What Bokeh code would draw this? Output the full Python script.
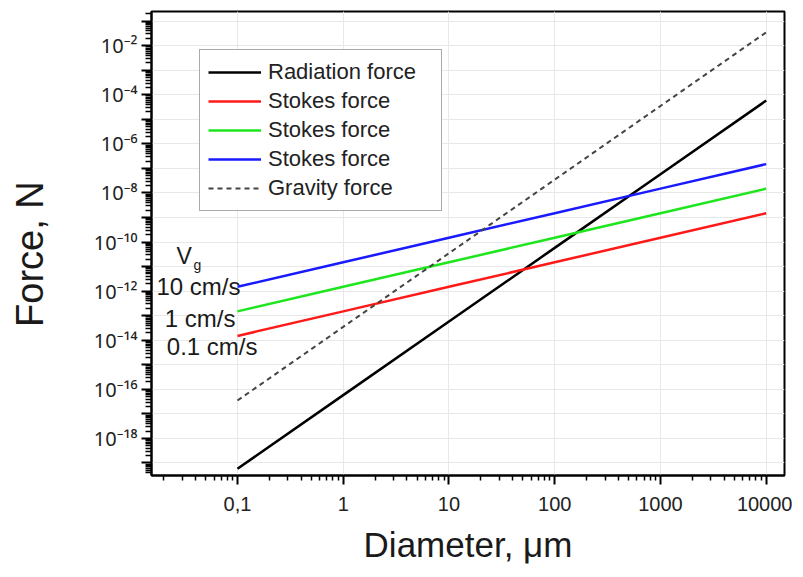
from bokeh.plotting import figure
from bokeh.models import Range1d, FixedTicker, Legend, LegendItem
from bokeh.core.properties import value
from bokeh.embed import file_html
from bokeh.resources import INLINE

# ---- data ----
diameter_um = [0.1, 1, 10, 100, 1000, 10000]
radiation_force = [5.8e-20, 5.8e-17, 5.8e-14, 5.8e-11, 5.8e-8, 5.8e-5]
stokes_01_cms = [1.5e-14, 1.5e-13, 1.5e-12, 1.5e-11, 1.5e-10, 1.5e-9]
stokes_1_cms = [1.5e-13, 1.5e-12, 1.5e-11, 1.5e-10, 1.5e-9, 1.5e-8]
stokes_10_cms = [1.5e-12, 1.5e-11, 1.5e-10, 1.5e-9, 1.5e-8, 1.5e-7]
gravity_force = [3.5e-17, 3.5e-14, 3.5e-11, 3.5e-8, 3.5e-5, 3.5e-2]

legend_labels = ["Radiation force", "Stokes force", "Stokes force", "Stokes force", "Gravity force"]
velocity_labels = ["10 cm/s", "1 cm/s", "0.1 cm/s"]

x_tick_values = [0.1, 1, 10, 100, 1000, 10000]
x_tick_labels = ["0,1", "1", "10", "100", "1000", "10000"]
x_decades = list(range(-2, 5))
y_decades = list(range(-19, 0))
y_labeled = list(range(-18, 0, 2))

X_MIN, X_MAX = 10 ** -1.813, 10 ** 4.173
Y_MIN, Y_MAX = 10 ** -19.51, 10 ** -0.607

FONT = "Liberation Sans"
SUP = str.maketrans("-0123456789", "⁻⁰¹²³⁴⁵⁶⁷⁸⁹")
NBSP = "\u00a0"

p = figure(width=792, height=566, x_axis_type="log", y_axis_type="log",
           x_range=Range1d(X_MIN, X_MAX), y_range=Range1d(Y_MIN, Y_MAX),
           output_backend="svg", toolbar_location=None,
           min_border_left=151, min_border_right=8, min_border_top=11, min_border_bottom=87)
p.background_fill_color = "white"
p.border_fill_color = "white"
p.outline_line_color = "black"
p.outline_line_width = 2

# ---- tickers ----
x_major = [10.0 ** e for e in x_decades]
x_minor = [k * 10.0 ** e for e in range(-2, 5) for k in range(2, 10)]
y_major = [10.0 ** e for e in y_decades]
y_minor = [k * 10.0 ** e for e in range(-20, 0) for k in range(2, 10)]

xt = FixedTicker(ticks=x_major, minor_ticks=x_minor)
yt = FixedTicker(ticks=y_major, minor_ticks=y_minor)
p.xaxis.ticker = xt
p.yaxis.ticker = yt
p.xgrid.ticker = xt
p.ygrid.ticker = yt

xover = {10.0 ** e: "" for e in x_decades}
for v, lab in zip(x_tick_values, x_tick_labels):
    xover[float(v)] = lab
p.xaxis.major_label_overrides = xover

yover = {}
for e in y_decades:
    yover[10.0 ** e] = ("10" + str(e).translate(SUP)) if e in y_labeled else ""
p.yaxis.major_label_overrides = yover

for ax in (p.xaxis, p.yaxis):
    ax.axis_line_width = 2
    ax.axis_line_color = "black"
    ax.major_tick_line_width = 2
    ax.minor_tick_line_width = 1.5
    ax.major_tick_in = 0
    ax.minor_tick_in = 0
    ax.major_label_text_font = FONT
    ax.major_label_text_color = "#222222"
    ax.axis_label_text_font = FONT
    ax.axis_label_text_font_style = "normal"
    ax.axis_label_text_color = "#1a1a1a"

p.yaxis.major_label_text_font = "Noto Sans"
p.xaxis.major_label_text_font_size = "20px"
p.yaxis.major_label_text_font_size = "20px"
p.xaxis.axis_label_text_font_size = "35px"
p.yaxis.axis_label_text_font_size = "38px"
p.xaxis.major_tick_out = 9
p.xaxis.minor_tick_out = 5
p.yaxis.major_tick_out = 10
p.yaxis.minor_tick_out = 6
p.xaxis.major_label_standoff = 12
p.yaxis.major_label_standoff = 4
p.xaxis.axis_label = "Diameter, μm"
p.yaxis.axis_label = "Force, N" + NBSP * 2
p.xaxis.axis_label_standoff = 11
p.yaxis.axis_label_standoff = 40

p.xgrid.grid_line_color = "#e8e8e8"
p.ygrid.grid_line_color = "#e8e8e8"
p.xgrid.grid_line_width = 1
p.ygrid.grid_line_width = 1

# ---- lines ----
r_rad = p.line(diameter_um, radiation_force, line_color="black", line_width=2.5)
r_s01 = p.line(diameter_um, stokes_01_cms, line_color="#ff1a1a", line_width=2.5)
r_s1 = p.line(diameter_um, stokes_1_cms, line_color="#1ee61e", line_width=2.5)
r_s10 = p.line(diameter_um, stokes_10_cms, line_color="#1a1aff", line_width=2.5)
r_grav = p.line(diameter_um, gravity_force, line_color="#444444", line_width=2, line_dash="5 4")

legend = Legend(items=[LegendItem(label=lab, renderers=[r]) for lab, r in
                       zip(legend_labels, [r_rad, r_s01, r_s1, r_s10, r_grav])],
                location=(48, 264))
legend.label_text_font = FONT
legend.label_text_font_size = "22px"
legend.label_text_color = "#222222"
legend.glyph_width = 53
legend.glyph_height = 28
legend.label_height = 28
legend.label_width = 165
legend.label_standoff = 7
legend.spacing = 1
legend.padding = 8
legend.border_line_color = "#555555"
legend.border_line_width = 1.5
legend.background_fill_alpha = 1
p.add_layout(legend, "center")

# ---- velocity annotations next to the line starts ----
starts = [stokes_10_cms[0], stokes_1_cms[0], stokes_01_cms[0]]
p.text(x=[diameter_um[0]] * 3, y=starts, text=velocity_labels,
       x_offset=[3, -2, 20], y_offset=[0, 7, 11],
       text_align="right", text_baseline="middle",
       text_font=value(FONT), text_font_size="24px", text_color="#1a1a1a")
p.text(x=[diameter_um[0]], y=[stokes_10_cms[0]], text=["V"],
       x_offset=-61, y_offset=-31, text_align="left", text_baseline="alphabetic",
       text_font=value(FONT), text_font_size="23px", text_color="#1a1a1a")
p.text(x=[diameter_um[0]], y=[stokes_10_cms[0]], text=["g"],
       x_offset=-44, y_offset=-22, text_align="left", text_baseline="alphabetic",
       text_font=value(FONT), text_font_size="14px", text_color="#1a1a1a")

open("out.html", "w").write(file_html(p, INLINE))
